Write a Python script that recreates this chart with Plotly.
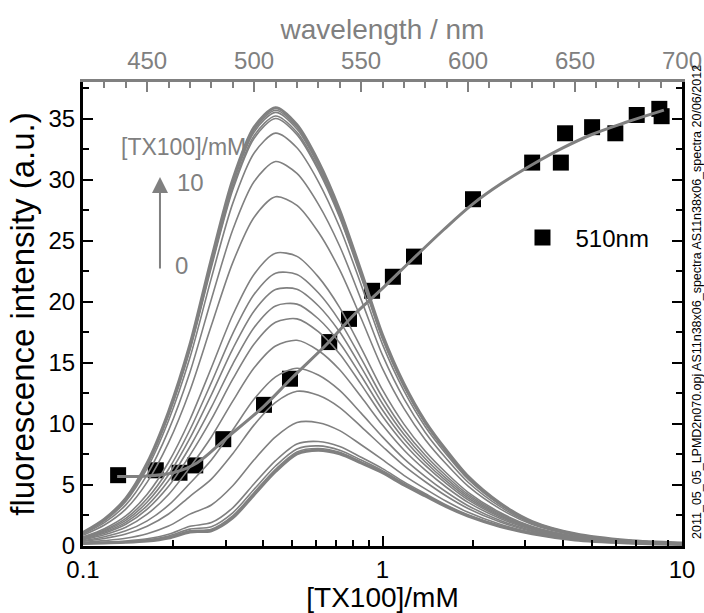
import plotly.graph_objects as go

# ---------------- data ----------------
wavelength_nm = [420, 430, 440, 450, 460, 470, 480, 490, 500, 510, 520, 530,
                 540, 550, 560, 570, 580, 590, 600, 615, 630, 650, 675, 700]

spec_00 = [0.2, 0.25, 0.3, 0.4, 0.65, 1.15, 1.25, 2.3, 4.2, 6.1, 7.55, 7.85, 7.55, 6.8, 6.0, 5.0, 4.1, 3.2, 2.45, 1.6, 1.0, 0.5, 0.25, 0.12]
spec_01 = [0.21, 0.26, 0.32, 0.44, 0.71, 1.24, 1.38, 2.47, 4.38, 6.28, 7.71, 7.99, 7.67, 6.89, 6.07, 5.05, 4.14, 3.23, 2.47, 1.61, 1.01, 0.5, 0.25, 0.12]
spec_02 = [0.21, 0.28, 0.35, 0.5, 0.81, 1.38, 1.58, 2.72, 4.65, 6.55, 7.95, 8.2, 7.85, 7.04, 6.17, 5.13, 4.19, 3.27, 2.5, 1.63, 1.02, 0.51, 0.25, 0.12]
spec_03 = [0.23, 0.31, 0.41, 0.59, 0.96, 1.61, 1.92, 3.13, 5.1, 6.99, 8.36, 8.56, 8.15, 7.27, 6.34, 5.25, 4.28, 3.34, 2.55, 1.66, 1.03, 0.52, 0.26, 0.12]
spec_04 = [0.29, 0.44, 0.64, 1.01, 1.63, 2.61, 3.36, 4.93, 7.06, 8.93, 10.11, 10.1, 9.45, 8.29, 7.07, 5.79, 4.68, 3.64, 2.76, 1.78, 1.1, 0.55, 0.27, 0.13]
spec_05 = [0.37, 0.62, 0.98, 1.62, 2.62, 4.07, 5.48, 7.56, 9.92, 11.76, 12.67, 12.34, 11.34, 9.78, 8.15, 6.58, 5.26, 4.07, 3.07, 1.96, 1.19, 0.6, 0.29, 0.15]
spec_06 = [0.43, 0.76, 1.24, 2.06, 3.34, 5.14, 7.04, 9.5, 12.03, 13.85, 14.56, 14.0, 12.74, 10.88, 8.94, 7.16, 5.69, 4.4, 3.3, 2.09, 1.26, 0.63, 0.3, 0.15]
spec_07 = [0.51, 0.92, 1.54, 2.61, 4.22, 6.45, 8.93, 11.86, 14.59, 16.38, 16.85, 16.01, 14.43, 12.22, 9.9, 7.86, 6.21, 4.79, 3.57, 2.26, 1.35, 0.67, 0.32, 0.17]
spec_08 = [0.57, 1.05, 1.78, 3.02, 4.89, 7.44, 10.37, 13.66, 16.54, 18.32, 18.6, 17.55, 15.73, 13.24, 10.63, 8.4, 6.6, 5.09, 3.78, 2.38, 1.41, 0.71, 0.33, 0.17]
spec_09 = [0.61, 1.14, 1.94, 3.31, 5.36, 8.13, 11.37, 14.9, 17.9, 19.66, 19.81, 18.61, 16.63, 13.94, 11.14, 8.78, 6.88, 5.29, 3.93, 2.47, 1.46, 0.73, 0.34, 0.18]
spec_10 = [0.65, 1.23, 2.1, 3.6, 5.83, 8.83, 12.38, 16.15, 19.25, 21.0, 21.03, 19.68, 17.53, 14.65, 11.65, 9.15, 7.15, 5.5, 4.08, 2.55, 1.5, 0.75, 0.35, 0.19]
spec_11 = [0.69, 1.31, 2.26, 3.89, 6.29, 9.52, 13.38, 17.4, 20.61, 22.34, 22.24, 20.74, 18.42, 15.36, 12.16, 9.52, 7.43, 5.71, 4.22, 2.64, 1.55, 0.77, 0.36, 0.19]
spec_12 = [0.74, 1.42, 2.46, 4.24, 6.86, 10.36, 14.6, 18.92, 22.26, 23.98, 23.72, 22.04, 19.52, 16.22, 12.78, 9.98, 7.76, 5.96, 4.4, 2.74, 1.6, 0.8, 0.37, 0.2]
spec_13 = [0.88, 1.72, 3.02, 5.23, 8.46, 12.74, 18.05, 23.21, 26.93, 28.6, 27.9, 25.71, 22.61, 18.65, 14.53, 11.27, 8.71, 6.67, 4.9, 3.04, 1.76, 0.88, 0.4, 0.22]
spec_14 = [0.97, 1.91, 3.37, 5.85, 9.47, 14.23, 20.21, 25.9, 29.85, 31.49, 30.51, 28.0, 24.55, 20.18, 15.63, 12.07, 9.3, 7.12, 5.22, 3.22, 1.85, 0.93, 0.42, 0.23]
spec_15 = [1.04, 2.06, 3.65, 6.35, 10.28, 15.43, 21.94, 28.06, 32.19, 33.81, 32.61, 29.85, 26.1, 21.4, 16.51, 12.72, 9.77, 7.48, 5.47, 3.37, 1.93, 0.97, 0.44, 0.24]
spec_16 = [1.07, 2.14, 3.79, 6.61, 10.69, 16.04, 22.83, 29.17, 33.4, 35.01, 33.69, 30.79, 26.9, 22.03, 16.96, 13.05, 10.02, 7.66, 5.6, 3.44, 1.97, 0.99, 0.44, 0.25]
spec_17 = [1.08, 2.16, 3.82, 6.65, 10.76, 16.15, 22.99, 29.36, 33.61, 35.22, 33.88, 30.96, 27.04, 22.14, 17.04, 13.11, 10.06, 7.69, 5.63, 3.46, 1.98, 0.99, 0.45, 0.25]
spec_18 = [1.09, 2.18, 3.85, 6.72, 10.87, 16.3, 23.21, 29.64, 33.91, 35.51, 34.15, 31.19, 27.24, 22.3, 17.15, 13.19, 10.12, 7.74, 5.66, 3.48, 1.99, 0.99, 0.45, 0.25]
spec_19 = [1.09, 2.19, 3.88, 6.76, 10.93, 16.39, 23.34, 29.81, 34.09, 35.69, 34.31, 31.33, 27.36, 22.39, 17.22, 13.24, 10.16, 7.77, 5.68, 3.49, 1.99, 1.0, 0.45, 0.25]
spec_20 = [1.1, 2.2, 3.9, 6.8, 11.0, 16.5, 23.5, 30.0, 34.3, 35.9, 34.5, 31.5, 27.5, 22.5, 17.3, 13.3, 10.2, 7.8, 5.7, 3.5, 2.0, 1.0, 0.45, 0.25]

spectra = [spec_00, spec_01, spec_02, spec_03, spec_04, spec_05, spec_06,
           spec_07, spec_08, spec_09, spec_10, spec_11, spec_12, spec_13,
           spec_14, spec_15, spec_16, spec_17, spec_18, spec_19, spec_20]

tx100_mM = [0.131, 0.175, 0.21, 0.237, 0.294, 0.402, 0.491, 0.664, 0.773, 0.923,
            1.083, 1.274, 2.005, 3.16, 3.94, 4.07, 5.01, 5.99, 7.06, 8.40, 8.55]
intensity_510nm = [5.8, 6.2, 6.0, 6.6, 8.75, 11.56, 13.7, 16.7, 18.6, 20.9,
                   22.05, 23.7, 28.4, 31.4, 31.4, 33.8, 34.3, 33.8, 35.3, 35.8, 35.2]

fit_tx100_mM = [0.13, 0.16, 0.2, 0.24, 0.3, 0.4, 0.5, 0.65, 0.8, 1.0,
                1.25, 1.6, 2.0, 2.5, 3.2, 4.0, 5.0, 6.5, 8.7]
fit_intensity = [5.7, 5.72, 6.0, 6.8, 8.8, 11.4, 13.8, 16.5, 18.9, 21.1,
                 23.4, 25.9, 28.0, 29.7, 31.3, 32.6, 33.7, 34.7, 35.7]

bottom_ticks = [0.1, 1, 10]
bottom_ticktext = ["0.1", "1", "10"]
bottom_minor = [0.2, 0.3, 0.4, 0.5, 0.6, 0.7, 0.8, 0.9, 2, 3, 4, 5, 6, 7, 8, 9]
top_ticks = [450, 500, 550, 600, 650, 700]

GRAY = "#808080"
FONT = "Liberation Sans, Arial, Helvetica, sans-serif"

# ---------------- figure ----------------
fig = go.Figure()

for i, s in enumerate(spectra):
    w = 3 if i in (0, len(spectra) - 1) else 1.6
    fig.add_trace(go.Scatter(
        x=wavelength_nm, y=s, xaxis="x2", yaxis="y", mode="lines",
        line=dict(color=GRAY, width=w, shape="spline", smoothing=0.8),
        showlegend=False, hoverinfo="skip"))

fig.add_trace(go.Scatter(
    x=tx100_mM, y=intensity_510nm, xaxis="x", yaxis="y", mode="markers",
    marker=dict(symbol="square", size=16, color="black"),
    name="510nm", showlegend=True))

fig.add_trace(go.Scatter(
    x=fit_tx100_mM, y=fit_intensity, xaxis="x", yaxis="y", mode="lines",
    line=dict(color=GRAY, width=3, shape="spline", smoothing=1),
    showlegend=False, hoverinfo="skip"))

fig.update_layout(
    width=704, height=613,
    margin=dict(l=83, r=22, t=82, b=67),
    paper_bgcolor="white", plot_bgcolor="white",
    font=dict(family=FONT, color="black"),
    xaxis=dict(
        type="log", range=[-1, 1], automargin=False,
        tickvals=bottom_ticks, ticktext=bottom_ticktext,
        ticks="inside", ticklen=10, tickwidth=2, tickcolor="black",
        showline=True, linecolor="black", linewidth=3,
        showgrid=False, zeroline=False,
        tickfont=dict(size=24, color="black"),
        title=dict(text="[TX100]/mM", font=dict(size=28, color="black"), standoff=4),
        minor=dict(tickvals=bottom_minor, ticks="inside", ticklen=6,
                   tickwidth=2, tickcolor="black", showgrid=False),
    ),
    xaxis2=dict(
        overlaying="x", side="top", anchor="y", range=[420, 700], automargin=False,
        tickvals=top_ticks,
        ticks="inside", ticklen=10, tickwidth=2, tickcolor=GRAY,
        showline=True, linecolor=GRAY, linewidth=3,
        showgrid=False, zeroline=False,
        tickfont=dict(size=24, color=GRAY),
        title=dict(text="wavelength / nm", font=dict(size=28, color=GRAY), standoff=0),
        minor=dict(tick0=420, dtick=10, ticks="inside", ticklen=6,
                   tickwidth=2, tickcolor=GRAY, showgrid=False),
    ),
    yaxis=dict(
        range=[0, 38], tick0=0, dtick=5, automargin=False,
        ticks="inside", ticklen=10, tickwidth=2, tickcolor="black",
        showline=True, linecolor="black", linewidth=3, mirror="ticks",
        showgrid=False, zeroline=False,
        tickfont=dict(size=24, color="black"),
        title=dict(text="fluorescence intensity (a.u.)",
                   font=dict(size=33, color="black"), standoff=4),
        minor=dict(tick0=0, dtick=2.5, ticks="inside", ticklen=6,
                   tickwidth=2, tickcolor="black", showgrid=False),
    ),
    legend=dict(x=0.712, y=0.664, xanchor="left", yanchor="middle",
                itemwidth=56,
                font=dict(size=24, color="black"), bgcolor="rgba(0,0,0,0)"),
    annotations=[
        dict(text="[TX100]/mM", xref="paper", yref="paper", x=0.2755, y=0.860,
             xanchor="right", yanchor="middle", showarrow=False,
             font=dict(size=23, color=GRAY)),
        dict(text="", xref="paper", yref="paper", x=0.1285, y=0.795,
             ax=0, ay=93, showarrow=True, arrowhead=2, arrowsize=1.6,
             arrowwidth=2, arrowcolor=GRAY),
        dict(text="10", xref="paper", yref="paper", x=0.1536, y=0.784,
             xanchor="left", yanchor="middle", showarrow=False,
             font=dict(size=24, color=GRAY)),
        dict(text="0", xref="paper", yref="paper", x=0.150, y=0.6056,
             xanchor="left", yanchor="middle", showarrow=False,
             font=dict(size=24, color=GRAY)),
        dict(text="2011_05_05_LPMD2n070.opj AS11n38x06_spectra AS11n38x06_spectra 20/06/2012",
             xref="paper", yref="paper", x=1.025, y=0.526, textangle=-90,
             xanchor="center", yanchor="middle", showarrow=False,
             font=dict(size=12.5, color="black")),
    ],
)

fig.write_html("out.html")
